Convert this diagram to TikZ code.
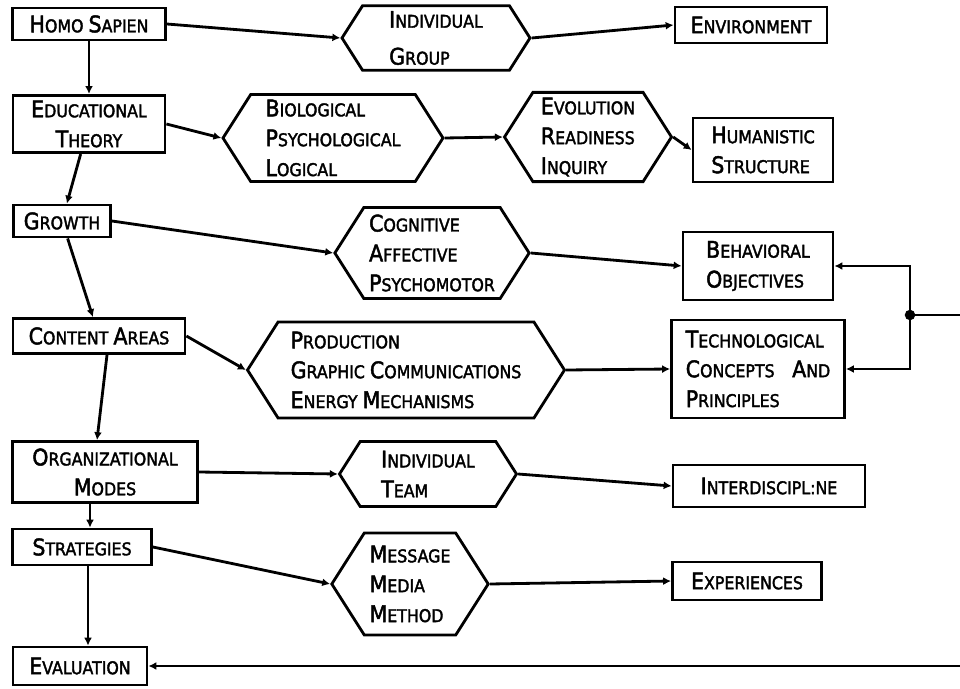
\documentclass[tikz,border=0pt]{standalone}
\usepackage{fontspec}
\setmainfont{DejaVu Sans}[FakeStretch=0.9, FakeBold=2]
\usetikzlibrary{arrows.meta,shapes.symbols,calc}
\newcommand\ini[1]{{\fontsize{13}{13}\selectfont #1}}

\begin{document}
\begin{tikzpicture}[x=0.02cm, y=-0.02cm,
		bx/.style = {rectangle, draw, line width=1.6pt, font=\fontsize{10}{17}\selectfont, inner sep=3pt},
		hx/.style = {signal, signal to=west and east, signal pointer angle=115, draw, line width=1.6pt,
			font=\fontsize{10}{17}\selectfont, align=left, inner sep=3pt},
		sz/.style 2 args = {minimum width=#1*0.02cm, minimum height=#2*0.02cm},
		r/.style = {-{Latex[length=4.5pt,width=4.5pt]}, line width=1.6pt},
		]
		\useasboundingbox (0,0) rectangle (960,689);
		
		%Nodes
		\node[bx, sz={153}{32}]					(hs)	at	(89, 24)	{\ini{H}OMO \ini{S}APIEN};
		\node[hx, sz={188}{61}]					(ig)	at	(436, 38)	{\ini{I}NDIVIDUAL\\[4pt]\ini{G}ROUP};
		\node[bx, sz={152}{36}]					(env)	at	(751, 25)	{\ini{E}NVIRONMENT};
		\node[bx, sz={152}{54}, align=center]	(et)	at	(89, 124)	{\ini{E}DUCATIONAL\\\ini{T}HEORY};
		\node[hx, sz={220}{83}]					(bpl)	at	(333, 138)	{\ini{B}IOLOGICAL\\\ini{P}SYCHOLOGICAL\\\ini{L}OGICAL};
		\node[hx, sz={167}{89}]					(eri)	at	(588, 137)	{\ini{E}VOLUTION\\\ini{R}EADINESS\\\ini{I}NQUIRY};
		\node[bx, sz={140}{64}, align=left]		(hum)	at	(763, 150)	{\ini{H}UMANISTIC\\\ini{S}TRUCTURE};
		\node[bx, sz={97}{32}]					(gr)	at	(62, 221)	{\ini{G}ROWTH};
		\node[hx, sz={185}{91}]					(cap)	at	(432, 253)	{\ini{C}OGNITIVE\\\ini{A}FFECTIVE\\\ini{P}SYCHOMOTOR};
		\node[bx, sz={150}{68}, align=left]		(bo)	at	(758, 266)	{\ini{B}EHAVIORAL\\\ini{O}BJECTIVES};
		\node[bx, sz={172}{35}]					(ca)	at	(99, 336)	{\ini{C}ONTENT \ini{A}REAS};
		\node[hx, sz={317}{96}]					(pge)	at	(406, 370)	{\ini{P}RODUCTION\\\ini{G}RAPHIC \ini{C}OMMUNICATIONS\\\ini{E}NERGY \ini{M}ECHANISMS};
		\node[bx, sz={173}{98}, align=left]		(tcp)	at	(758, 369)	{\ini{T}ECHNOLOGICAL\\\ini{C}ONCEPTS\quad\ini{A}ND\\\ini{P}RINCIPLES};
		\node[bx, sz={185}{61}, align=center]	(om)	at	(105, 472)	{\ini{O}RGANIZATIONAL\\\ini{M}ODES};
		\node[hx, sz={177}{65}]					(it)	at	(428, 474)	{\ini{I}NDIVIDUAL\\\ini{T}EAM};
		\node[bx, sz={192}{42}]					(inter)	at	(769, 486)	{\ini{I}NTERDISCIPL:NE};
		\node[bx, sz={139}{36}]					(st)	at	(82, 547)	{\ini{S}TRATEGIES};
		\node[hx, sz={144}{102}]				(mmm)	at	(410, 584)	{\ini{M}ESSAGE\\\ini{M}EDIA\\\ini{M}ETHOD};
		\node[bx, sz={149}{38}]					(exp)	at	(747, 581)	{\ini{E}XPERIENCES};
		\node[bx, sz={134}{38}]					(ev)	at	(80, 666)	{\ini{E}VALUATION};
		
		\coordinate (fb1) at (960, 315);
		\coordinate (j) at (910, 315);
		\coordinate (fb2) at (960, 666);
		
		%Lines
		\draw[r]	(hs)							--	(et);
		\draw[r]	(et)							--	(gr);
		\draw[r]	(gr)							--	(ca);
		\draw[r]	($(ca.south)+(8, 0)$)			--	($(om.north)+(-8, 0)$);
		\draw[r]	($(om.south)+(-15, 0)$)			--	($(st.north)+(8, 0)$);
		\draw[r]	($(st.south)+(6, 0)$)			--	($(ev.north)+(8, 0)$);
		
		\draw[r]	(hs.east)	--	(ig.west);
		\draw[r]	(ig.east)	--	(env.west);
		\draw[r]	(et.east)	--	(bpl.west);
		\draw[r]	(bpl.east)	--	(eri.west);
		\draw[r]	(eri.east)	--	(hum.west);
		\draw[r]	(gr.east)	--	(cap.west);
		\draw[r]	(cap.east)	--	(bo.west);
		\draw[r]	(ca.east)	--	(pge.west);
		\draw[r]	(pge.east)	--	(tcp.west);
		\draw[r]	(om.east)	--	(it.west);
		\draw[r]	(it.east)	--	(inter.west);
		\draw[r]	(st.east)	--	(mmm.west);
		\draw[r]	(mmm.east)	--	(exp.west);
		
		\draw[line width=1.6pt]	(fb1)	--	(j);
		\fill	(j)	circle (3pt);
		\draw[r]	(j)		|-	(bo.east);
		\draw[r]	(j)		|-	(tcp.east);
		\draw[r]	(fb2)	--	(ev.east);
	\end{tikzpicture}
\end{document}
